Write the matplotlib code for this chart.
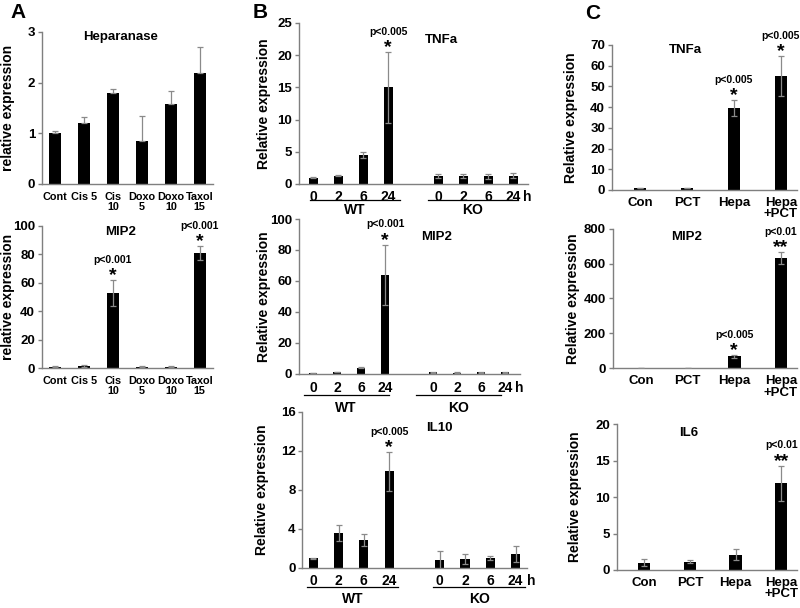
import numpy as np
import matplotlib
matplotlib.use("Agg")
import matplotlib.pyplot as plt
from matplotlib.transforms import ScaledTranslation

plt.rcParams['font.family'] = ['Liberation Sans', 'DejaVu Sans']
plt.rcParams['font.weight'] = 'bold'

# ---- data ----
a_labels = ["Cont", "Cis 5", "Cis\n10", "Doxo\n5", "Doxo\n10", "Taxol\n15"]
hep_vals = [1.0, 1.2, 1.8, 0.85, 1.58, 2.2]
hep_err = [0.05, 0.12, 0.08, 0.5, 0.25, 0.5]
a_mip2_vals = [1.0, 1.5, 53, 1.0, 0.8, 81]
a_mip2_err = [0.3, 0.6, 9, 0.3, 0.3, 5]

b_ticks = ["0", "2", "6", "24", "0", "2", "6", "24"]
b_pos = [0, 1, 2, 3, 5, 6, 7, 8]
b_groups = ["WT", "KO"]
b_tnfa_vals = [1.0, 1.3, 4.5, 15.0, 1.3, 1.3, 1.2, 1.3]
b_tnfa_err = [0.05, 0.1, 0.4, 5.5, 0.3, 0.3, 0.4, 0.4]
b_mip2_vals = [0.8, 1.2, 4.0, 64, 1.0, 0.8, 1.0, 1.2]
b_mip2_err = [0.1, 0.2, 0.4, 19.5, 0.2, 0.2, 0.2, 0.3]
b_il10_vals = [1.0, 3.6, 2.9, 9.9, 0.8, 0.9, 1.05, 1.45]
b_il10_err = [0.05, 0.8, 0.6, 2.0, 0.9, 0.5, 0.2, 0.8]

c_labels = ["Con", "PCT", "Hepa", "Hepa\n+PCT"]
c_tnfa_vals = [1.0, 1.0, 39.5, 55]
c_tnfa_err = [0.1, 0.1, 3.8, 9.5]
c_mip2_vals = [1.0, 1.0, 68, 633]
c_mip2_err = [0.2, 0.2, 8, 35]
c_il6_vals = [1.0, 1.15, 2.1, 11.9]
c_il6_err = [0.5, 0.25, 0.75, 2.4]

ecol = "#8a8a8a"
scol = "#7f7f7f"

fig = plt.figure(figsize=(8, 6.08), dpi=100)


def style(ax, ymax, step, ylab, labx):
    ax.patch.set_visible(False)
    ax.set_ylim(0, ymax)
    ax.set_yticks(np.arange(0, ymax + step / 2, step))
    for s in ['top', 'right']:
        ax.spines[s].set_visible(False)
    for s in ['left', 'bottom']:
        ax.spines[s].set_color(scol)
        ax.spines[s].set_linewidth(1)
    ax.tick_params(axis='y', colors=scol, labelcolor='black', labelsize=9.5,
                   length=3, width=1, pad=2)
    ax.tick_params(axis='x', length=0)
    ax.set_ylabel(ylab, fontsize=10, fontweight='bold')
    ax.yaxis.set_label_coords(labx, 0.5)


def bars(ax, x, vals, err, width, up_only=False):
    if up_only:
        yerr = [np.zeros(len(err)), err]
    else:
        yerr = err
    ax.bar(x, vals, width=width, color='black', zorder=2)
    ax.errorbar(x, vals, yerr=yerr, fmt='none', ecolor=ecol, elinewidth=0.9,
                capsize=2.5, capthick=0.9, zorder=3)


def star(ax, x, top, ptxt, stars='*'):
    ax.annotate(stars, (x, top), xytext=(0, -3), textcoords='offset points',
                ha='center', va='bottom', fontsize=14, fontweight='bold')
    ax.annotate(ptxt, (x, top), xytext=(0, 11), textcoords='offset points',
                ha='center', va='bottom', fontsize=7.5, fontweight='bold')


def shifted(ax, dy):
    # x in data, y at the x-axis, moved down by dy pixels
    return ax.get_xaxis_transform() + ScaledTranslation(0, -dy / 100, fig.dpi_scale_trans)


def groups(ax, spans, tick_dy, line_dy, lab_dy, hx):
    ax.set_xticks(b_pos, [])
    for p, lab in zip(b_pos, b_ticks):
        ax.text(p, 0, lab, transform=shifted(ax, tick_dy), ha='center',
                va='center_baseline', fontsize=10, fontweight='bold')
    ax.text(hx, 0, "h", transform=shifted(ax, tick_dy), ha='left',
            va='center_baseline', fontsize=10, fontweight='bold')
    for (x0, x1), name in zip(spans, b_groups):
        ax.plot([x0, x1], [0, 0], color='black', lw=0.9, transform=shifted(ax, line_dy),
                clip_on=False)
        ax.text((x0 + x1) / 2, 0, name, transform=shifted(ax, lab_dy), ha='center',
                va='center_baseline', fontsize=10, fontweight='bold')


# ---- panel A ----
x = np.arange(len(a_labels))
for rect, vals, err, ymax, step, title, ty, up in [
        ([0.0525, 0.6974, 0.2135, 0.2500], hep_vals, hep_err, 3, 1, "Heparanase", 0.965, True),
        ([0.0525, 0.3947, 0.2135, 0.2336], a_mip2_vals, a_mip2_err, 100, 20, "MIP2", 0.955, False)]:
    ax = fig.add_axes(rect)
    bars(ax, x, vals, err, 0.4, up_only=up)
    style(ax, ymax, step, "relative expression", -0.158)
    ax.set_xlim(-0.45, 5.45)
    ax.set_xticks(x, a_labels, fontweight='bold', fontsize=7.8, linespacing=0.9)
    ax.tick_params(axis='x', pad=6)
    ax.text(0.46, ty, title, transform=ax.transAxes, ha='center', va='center',
            fontsize=9.5, fontweight='bold')
star(ax, 2, a_mip2_vals[2] + a_mip2_err[2], "p<0.001")
star(ax, 5, a_mip2_vals[5] + a_mip2_err[5], "p<0.001")
fig.text(0.022, 0.98, "A", fontsize=15, fontweight='bold', ha='center', va='center')

# ---- panel B ----
b_specs = [
    ([0.374, 0.6974, 0.286, 0.2648], (-0.56, 8.6), b_tnfa_vals, b_tnfa_err, 25, 5, "TNFa",
     0.894, "p<0.005", [(-0.12, 3.48), (4.6, 8.2)], (12, 16, 25), -0.122, 8.4),
    ([0.374, 0.3849, 0.276, 0.2549], (-0.58, 8.62), b_mip2_vals, b_mip2_err, 100, 20, "MIP2",
     0.884, "p<0.001", [(-0.4, 3.15), (4.3, 7.83)], (13, 21, 33), -0.127, 8.42),
    ([0.378, 0.0658, 0.281, 0.2566], (-0.43, 8.46), b_il10_vals, b_il10_err, 16, 4, "IL10",
     0.898, "p<0.005", [(-0.24, 3.36), (4.74, 8.38)], (12, 19, 30), -0.15, 8.45),
]
for rect, xl, vals, err, ymax, step, title, ty, ptxt, spans, offs, labx, hx in b_specs:
    ax = fig.add_axes(rect)
    bars(ax, b_pos, vals, err, 0.36)
    style(ax, ymax, step, "Relative expression", labx)
    ax.set_xlim(*xl)
    ax.text(0.55, ty, title, transform=ax.transAxes, ha='left', va='center',
            fontsize=9.5, fontweight='bold')
    star(ax, 3, vals[3] + err[3], ptxt)
    groups(ax, spans, offs[0], offs[1], offs[2], hx)
fig.text(0.325, 0.98, "B", fontsize=15, fontweight='bold', ha='center', va='center')

# ---- panel C ----
c_specs = [
    ([0.765, 0.6875, 0.231, 0.2385], c_tnfa_vals, c_tnfa_err, 70, 10, "TNFa", 0.966,
     [(2, "p<0.005", "*"), (3, "p<0.005", "*")], -0.184),
    ([0.766, 0.3947, 0.230, 0.2287], c_mip2_vals, c_mip2_err, 800, 200, "MIP2", 0.94,
     [(2, "p<0.005", "*"), (3, "p<0.01", "**")], -0.18),
    ([0.771, 0.0625, 0.225, 0.2401], c_il6_vals, c_il6_err, 20, 5, "IL6", 0.94,
     [(3, "p<0.01", "**")], -0.194),
]
xc = np.arange(len(c_labels))
for rect, vals, err, ymax, step, title, ty, sig, labx in c_specs:
    ax = fig.add_axes(rect)
    bars(ax, xc, vals, err, 0.27)
    style(ax, ymax, step, "Relative expression", labx)
    ax.set_xlim(-0.6, 3.34)
    ax.set_xticks(xc, c_labels, fontweight='bold', fontsize=9.5, linespacing=0.95)
    ax.tick_params(axis='x', pad=5)
    ax.text(0.40, ty, title, transform=ax.transAxes, ha='center', va='center',
            fontsize=9.5, fontweight='bold')
    for i, ptxt, s in sig:
        star(ax, i, vals[i] + err[i], ptxt, s)
fig.text(0.741, 0.978, "C", fontsize=15, fontweight='bold', ha='center', va='center')

fig.savefig("out.png", dpi=100)
